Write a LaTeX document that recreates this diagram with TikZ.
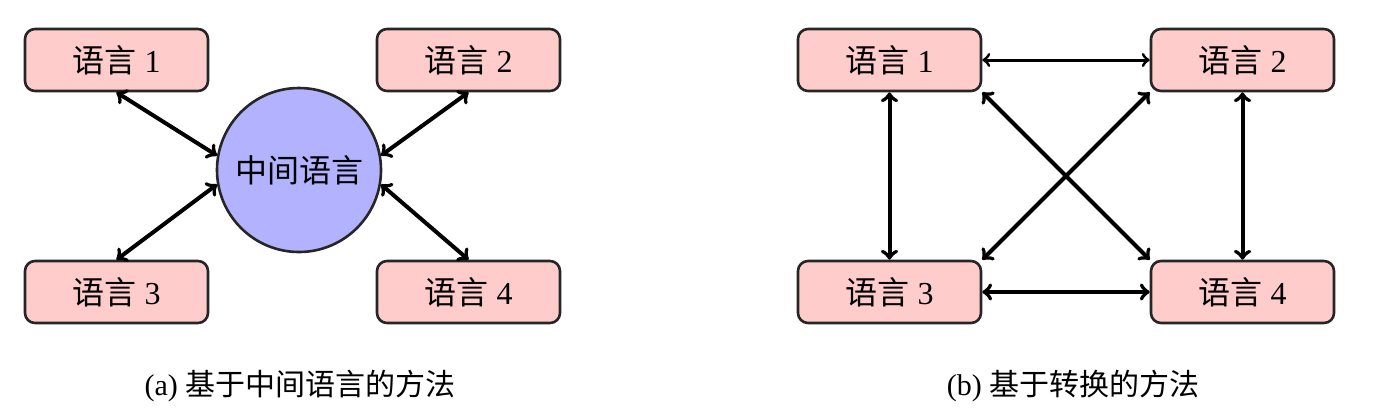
\documentclass[tikz,border=0pt]{standalone}
\usepackage{fontspec}
\setmainfont{Liberation Serif}
\newfontfamily\cjk{Noto Sans CJK SC}
\usetikzlibrary{arrows}

\begin{document}
\begin{tikzpicture}[x=0.5pt,y=-0.5pt,
    langbox/.style={draw=black!85, line width=1.3pt, fill=red!20, rounded corners=5pt,
        minimum width=91.5pt, minimum height=31pt, font=\fontsize{16}{19}\selectfont},
    midcircle/.style={circle, draw=black!85, line width=1.3pt, fill=blue!30,
        minimum size=82pt, inner sep=0pt, font=\fontsize{16}{19}\selectfont},
    link/.style={<->, >=to, line width=2pt},
    caption/.style={font=\fontsize{15}{18}\selectfont}]

    % Fix the picture size
    \useasboundingbox (0,0) rectangle (1385,419);

    % (a) Via the intermediate language
    \node[langbox] (a1) at (116.5,60) {{\cjk 语言} 1};
    \node[langbox] (a2) at (468.5,60) {{\cjk 语言} 2};
    \node[langbox] (a3) at (116.5,292) {{\cjk 语言} 3};
    \node[langbox] (a4) at (468.5,292) {{\cjk 语言} 4};
    \node[midcircle] (mid) at (299,170) {\cjk 中间语言};

    \draw[link] (a1.south) -- (mid.170);
    \draw[link] (a2.south) -- (mid.10);
    \draw[link] (a3.north) -- (mid.190);
    \draw[link] (a4.north) -- (mid.350);

    % (b) Direct transfer between each pair
    \node[langbox] (b1) at (889.5,60) {{\cjk 语言} 1};
    \node[langbox] (b2) at (1242.5,60) {{\cjk 语言} 2};
    \node[langbox] (b3) at (889.5,292) {{\cjk 语言} 3};
    \node[langbox] (b4) at (1242.5,292) {{\cjk 语言} 4};

    \draw[link, line width=1.5pt] (b1.east) -- (b2.west);
    \draw[link] (b3.east) -- (b4.west);
    \draw[link] (b1.south) -- (b3.north);
    \draw[link] (b2.south) -- (b4.north);
    \draw[link] (b1.south east) -- (b4.north west);
    \draw[link] (b2.south west) -- (b3.north east);

    % Captions
    \node[caption] (capa) at (300,386) {(a) {\cjk 基于中间语言的方法}};
    \node[caption] (capb) at (1073,386) {(b) {\cjk 基于转换的方法}};

\end{tikzpicture}
\end{document}
